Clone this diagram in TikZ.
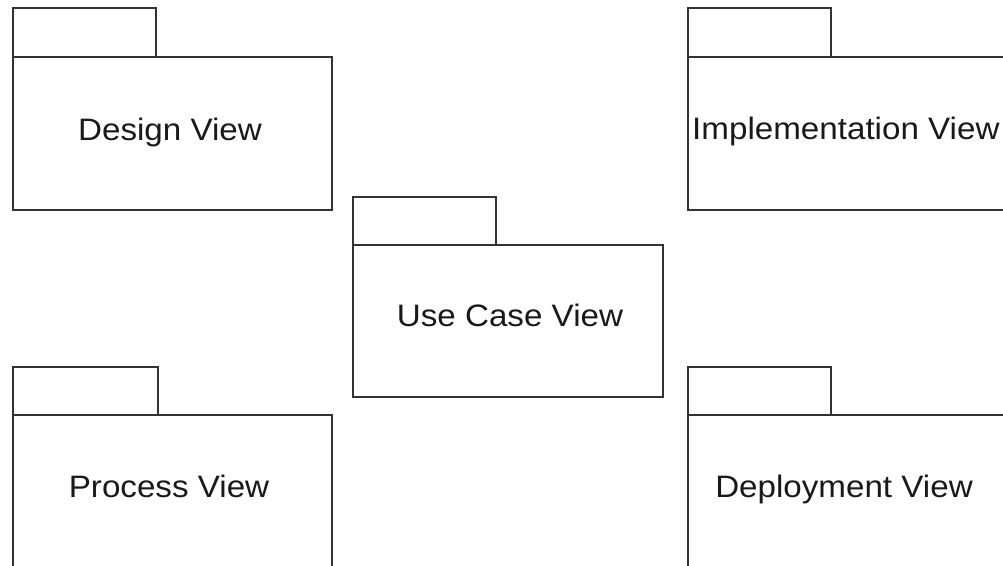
\documentclass[tikz,border=0pt]{standalone}
\usepackage{fontspec}
\setmainfont{Liberation Sans}
\begin{document}
\begin{tikzpicture}[x=1pt,y=-1pt]
\tikzset{
  pkg/.style={draw=black!80, line width=1.6pt, fill=white, rectangle, inner sep=0pt, outer sep=0pt, anchor=north west},
  lbl/.style={font=\fontsize{31}{34}\selectfont, xscale=1.07, inner sep=0pt, text=black!90}
}
\useasboundingbox[fill=white] (0,0) rectangle (1003,565);
\clip (0,0) rectangle (1003,565);
% Design View
\node[pkg, minimum width=143pt, minimum height=49pt] (dtab) at (13,8) {};
\node[pkg, minimum width=319pt, minimum height=153pt] (dbody) at (13,57) {};
\node[lbl, anchor=base] (dtext) at (170,140) {Design View};
% Implementation View
\node[pkg, minimum width=143pt, minimum height=49pt] (itab) at (688,8) {};
\node[pkg, minimum width=340pt, minimum height=153pt] (ibody) at (688,57) {};
\node[lbl, anchor=base west] (itext) at (692,139) {Implementation View};
% Use Case View
\node[pkg, minimum width=143pt, minimum height=48pt] (utab) at (353,197) {};
\node[pkg, minimum width=310pt, minimum height=152pt] (ubody) at (353,245) {};
\node[lbl, anchor=base] (utext) at (510,326) {Use Case View};
% Process View
\node[pkg, minimum width=145pt, minimum height=48pt] (ptab) at (13,367) {};
\node[pkg, minimum width=319pt, minimum height=200pt] (pbody) at (13,415) {};
\node[lbl, anchor=base] (ptext) at (169,497) {Process View};
% Deployment View
\node[pkg, minimum width=143pt, minimum height=48pt] (deptab) at (688,367) {};
\node[pkg, minimum width=340pt, minimum height=200pt] (depbody) at (688,415) {};
\node[lbl, anchor=base] (deptext) at (844,497) {Deployment View};
\end{tikzpicture}
\end{document}
